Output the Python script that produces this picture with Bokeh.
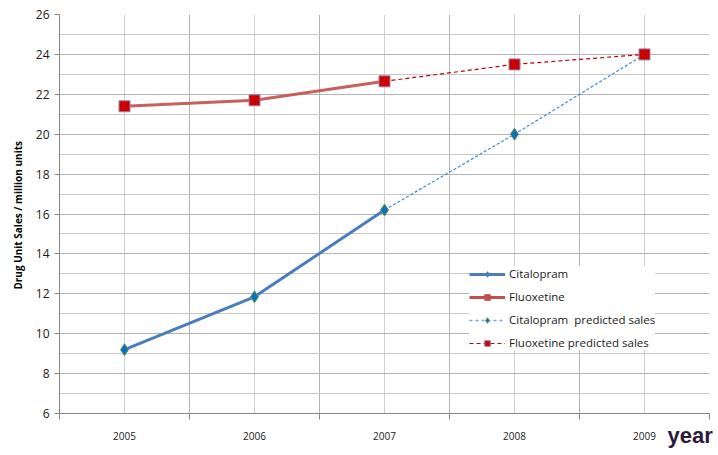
from bokeh.plotting import figure
from bokeh.models import FixedTicker, Legend, LegendItem, ColumnDataSource, Range1d
from bokeh.embed import file_html
from bokeh.resources import INLINE

years = [2005, 2006, 2007, 2008, 2009]
cit_years = [2005, 2006, 2007]
citalopram = [9.2, 11.85, 16.2]
flu_years = [2005, 2006, 2007]
fluoxetine = [21.4, 21.7, 22.65]
pred_years = [2007, 2008, 2009]
citalopram_pred = [16.2, 20.0, 24.0]
fluoxetine_pred = [22.65, 23.5, 24.0]
y_ticks = [6, 8, 10, 12, 14, 16, 18, 20, 22, 24, 26]
x_title = "year"

FONT = "Open Sans"

p = figure(width=718, height=455, output_backend="svg", toolbar_location=None,
           x_range=Range1d(2004.5, 2009.5), y_range=Range1d(6, 26),
           min_border_left=59, min_border_right=9, min_border_top=14, min_border_bottom=42)
p.outline_line_color = None
p.background_fill_color = "white"
p.border_fill_color = "white"

# axes
bounds = [y + 0.5 for y in [2004] + years]
p.xaxis.ticker = FixedTicker(ticks=years, minor_ticks=bounds)
p.xaxis.major_tick_out = 0
p.xaxis.major_tick_in = 0
p.xaxis.minor_tick_out = 6
p.xaxis.minor_tick_in = 0
p.xaxis.minor_tick_line_color = "#868686"
p.xaxis.axis_line_color = "#868686"
p.xaxis.major_label_text_font = FONT
p.xaxis.major_label_text_font_size = "10px"
p.xaxis.major_label_text_color = "#1a1a1a"
p.xaxis.major_label_standoff = 12
# right-aligned look for the axis title: pad with non-breaking spaces
p.xaxis.axis_label = "\u00a0" * 100 + x_title
p.xaxis.axis_label_text_font = "Liberation Sans"
p.xaxis.axis_label_text_font_size = "22px"
p.xaxis.axis_label_text_font_style = "bold"
p.xaxis.axis_label_text_color = "#2b1a3d"
p.xaxis.axis_label_standoff = -20

p.yaxis.ticker = FixedTicker(ticks=y_ticks, minor_ticks=list(range(7, 26, 2)))
p.yaxis.major_tick_out = 5
p.yaxis.major_tick_in = 0
p.yaxis.minor_tick_out = 0
p.yaxis.minor_tick_in = 0
p.yaxis.major_tick_line_color = "#868686"
p.yaxis.axis_line_color = "#868686"
p.yaxis.major_label_text_font = FONT
p.yaxis.major_label_text_font_size = "12px"
p.yaxis.major_label_text_color = "#1a1a1a"
p.yaxis.major_label_standoff = 5
p.yaxis.axis_label = "Drug Unit Sales  / million units"
p.yaxis.axis_label_text_font = FONT
p.yaxis.axis_label_text_font_size = "10px"
p.yaxis.axis_label_text_font_style = "bold"
p.yaxis.axis_label_text_color = "black"
p.yaxis.axis_label_standoff = 8

# grids
p.xgrid.grid_line_color = "#d0d0d0"
p.xgrid.grid_line_width = 1
p.xgrid.minor_grid_line_color = "#b4b4b4"
p.ygrid.grid_line_color = "#b4b4b4"
p.ygrid.minor_grid_line_color = "#c8c8c8"

# predicted (dotted/dashed)
p.line(pred_years, citalopram_pred, line_color="#3a8ad6", line_width=1.2, line_dash="3 2")
p.line(pred_years, fluoxetine_pred, line_color="#c00000", line_width=1.2, line_dash="4 3")
# actual
p.line(cit_years, citalopram, line_color="#4a7ebb", line_width=3)
p.line(flu_years, fluoxetine, line_color="#c0504d", line_width=3, line_alpha=0.9)
# markers
p.scatter(cit_years + pred_years[1:], citalopram + citalopram_pred[1:], marker="diamond", size=12,
          fill_color="#0f6fb8", line_color="#5a9a5a", line_width=1)
p.scatter(flu_years + pred_years[1:], fluoxetine + fluoxetine_pred[1:], marker="square", size=11,
          fill_color="#cc0000", line_color="#9a7fa8", line_width=1)

# legend proxies (placed outside the visible range)
def off():
    return ColumnDataSource(dict(x=[1990, 1991], y=[-10, -10]))

l1 = p.line("x", "y", source=off(), line_color="#4a7ebb", line_width=3)
m1 = p.scatter("x", "y", source=off(), marker="diamond", size=10, fill_color="#4a7ebb", line_color="#4a7ebb")
l2 = p.line("x", "y", source=off(), line_color="#c0504d", line_width=3)
m2 = p.scatter("x", "y", source=off(), marker="square", size=10, fill_color="#c0504d", line_color="#c0504d")
l3 = p.line("x", "y", source=off(), line_color="#6fa8dc", line_width=1.5, line_dash="3 3")
m3 = p.scatter("x", "y", source=off(), marker="diamond", size=9, fill_color="#0f6fb8", line_color="#5a9a5a")
l4 = p.line("x", "y", source=off(), line_color="#c00000", line_width=1.2, line_dash="4 3")
m4 = p.scatter("x", "y", source=off(), marker="square", size=10, fill_color="#cc0000", line_color="#9a7fa8")

legend = Legend(items=[
    LegendItem(label="Citalopram", renderers=[l1, m1]),
    LegendItem(label="Fluoxetine", renderers=[l2, m2]),
    LegendItem(label="Citalopram  predicted sales", renderers=[l3, m3]),
    LegendItem(label="Fluoxetine predicted sales", renderers=[l4, m4]),
], location=(410, 63))
legend.border_line_color = None
legend.background_fill_color = "white"
legend.background_fill_alpha = 1
legend.label_text_font = FONT
legend.label_text_font_size = "11.5px"
legend.label_text_color = "#1a1a1a"
legend.glyph_width = 36
legend.glyph_height = 14
legend.label_standoff = 4
legend.spacing = 8
legend.padding = 8
legend.margin = 0
p.add_layout(legend)

open("out.html", "w").write(file_html(p, INLINE))
